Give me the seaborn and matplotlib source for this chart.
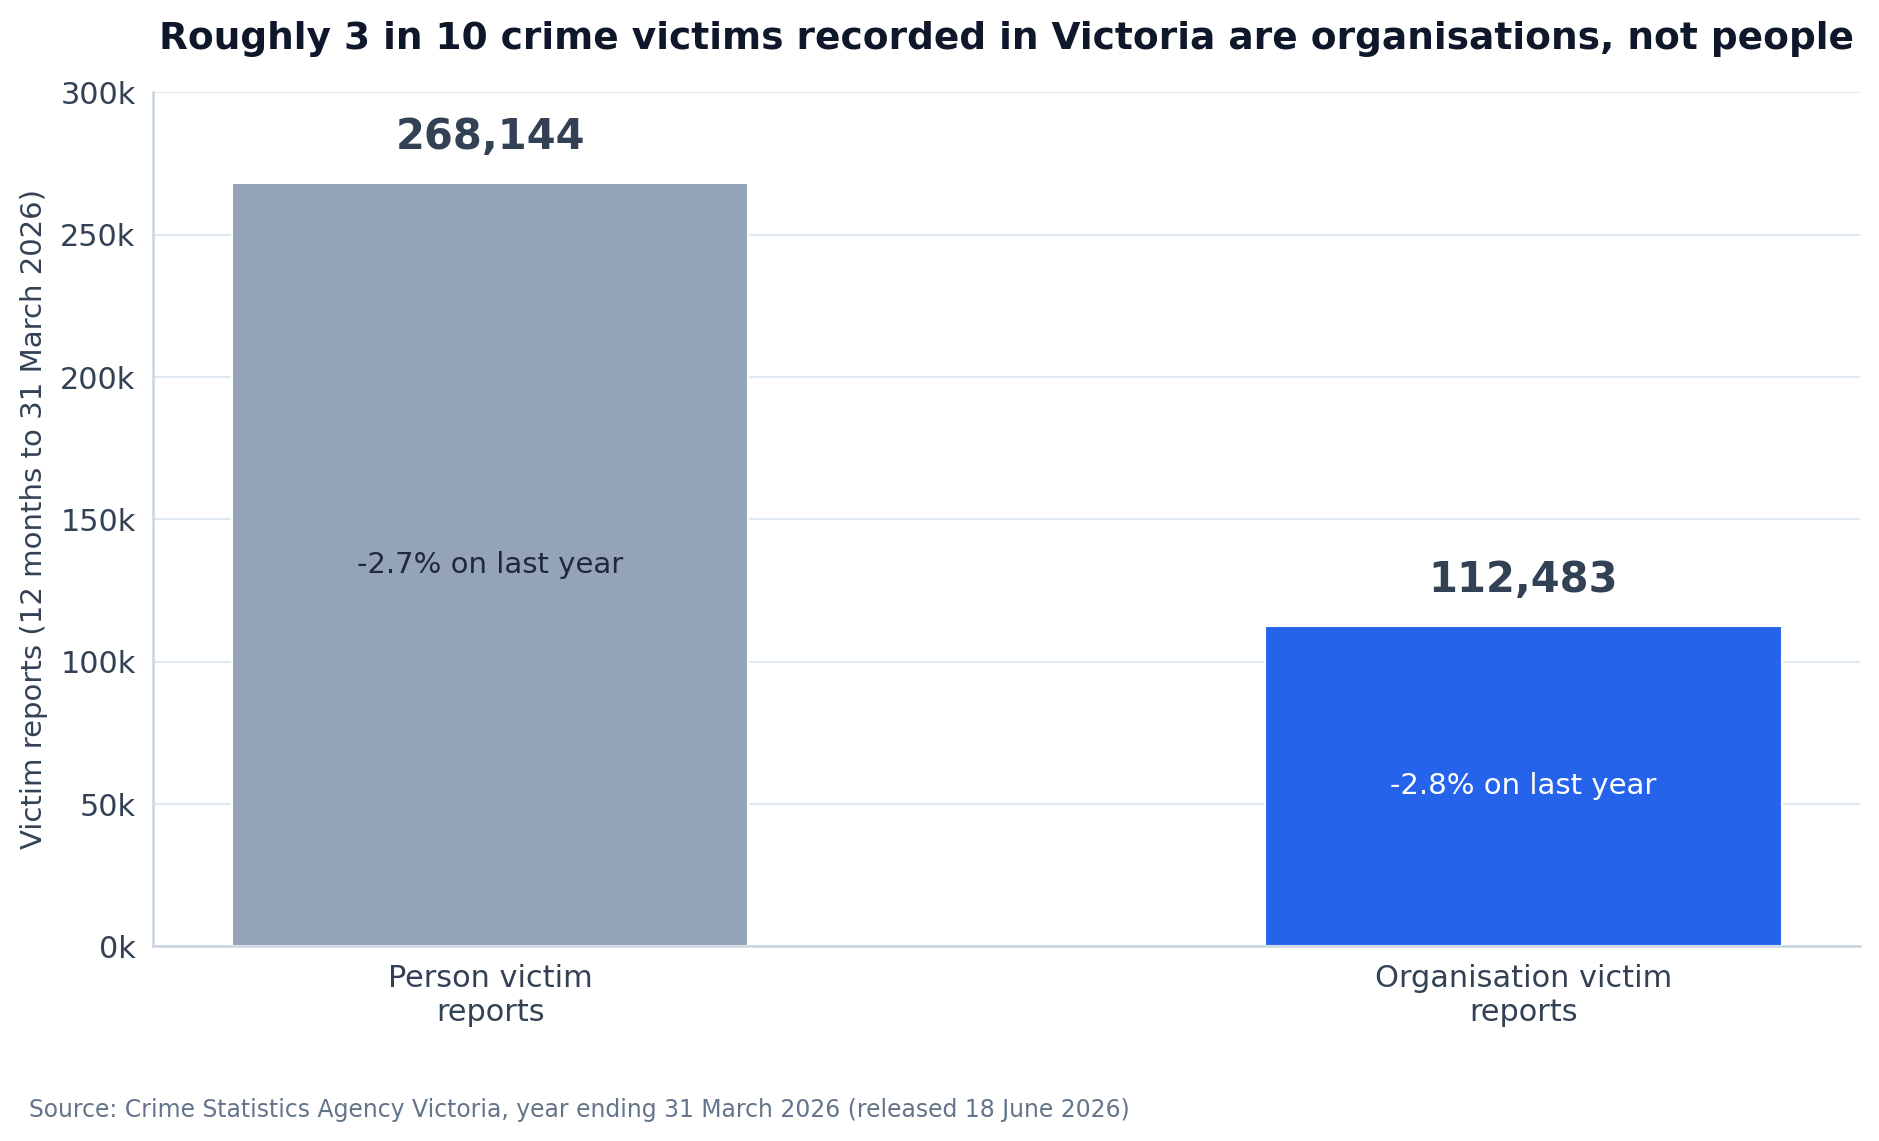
import pandas as pd
import matplotlib.pyplot as plt
import seaborn as sns
from matplotlib.ticker import FuncFormatter

categories = ['Person victim\nreports', 'Organisation victim\nreports']
victims = [268144, 112483]
changes = ['-2.7% on last year', '-2.8% on last year']
bar_colours = ['#94A3B8', '#2563EB']
inner_text_colours = ['#1E293B', '#FFFFFF']

df = pd.DataFrame({'Category': categories, 'Victims': victims})

sns.set_style('white')
plt.rcParams['font.family'] = ['DejaVu Sans']

fig, ax = plt.subplots(figsize=(12.527, 7.607), dpi=150)
fig.subplots_adjust(left=0.0816, right=0.99, top=0.919, bottom=0.1705)

sns.barplot(data=df, x='Category', y='Victims', hue='Category',
            palette=bar_colours, width=0.5, legend=False, ax=ax, saturation=1)

ax.set_ylim(0, 300000)
ax.set_xlim(-0.326, 1.326)
ax.set_yticks(range(0, 300001, 50000))
ax.yaxis.set_major_formatter(FuncFormatter(lambda v, p: f'{int(v / 1000)}k'))
ax.grid(axis='y', color='#E2E8F0', linewidth=1)
ax.set_axisbelow(True)

for side in ['top', 'right']:
    ax.spines[side].set_visible(False)
for side in ['left', 'bottom']:
    ax.spines[side].set_color('#CBD5E1')
    ax.spines[side].set_linewidth(1.2)

ax.tick_params(axis='both', colors='#334155', labelsize=14.6, length=5,
               width=1, labelcolor='#334155')
ax.set_xlabel('')
ax.set_ylabel('Victim reports (12 months to 31 March 2026)', fontsize=14,
              color='#334155', labelpad=6)

for i, v in enumerate(victims):
    ax.annotate(f'{v:,}', xy=(i, v), xytext=(0, 12), textcoords='offset points',
                ha='center', va='bottom', fontsize=20, fontweight='bold',
                color='#334155')
    ax.text(i, v / 2, changes[i], ha='center', va='center', fontsize=14,
            color=inner_text_colours[i])

ax.set_title('Roughly 3 in 10 crime victims recorded in Victoria are organisations, not people',
             fontsize=18, fontweight='bold', color='#0F172A', pad=21)

fig.text(0.0153, 0.027, 'Source: Crime Statistics Agency Victoria, year ending 31 March 2026 (released 18 June 2026)',
         fontsize=11.3, color='#64748B', ha='left', va='center')

fig.savefig('out.png', dpi=150)
